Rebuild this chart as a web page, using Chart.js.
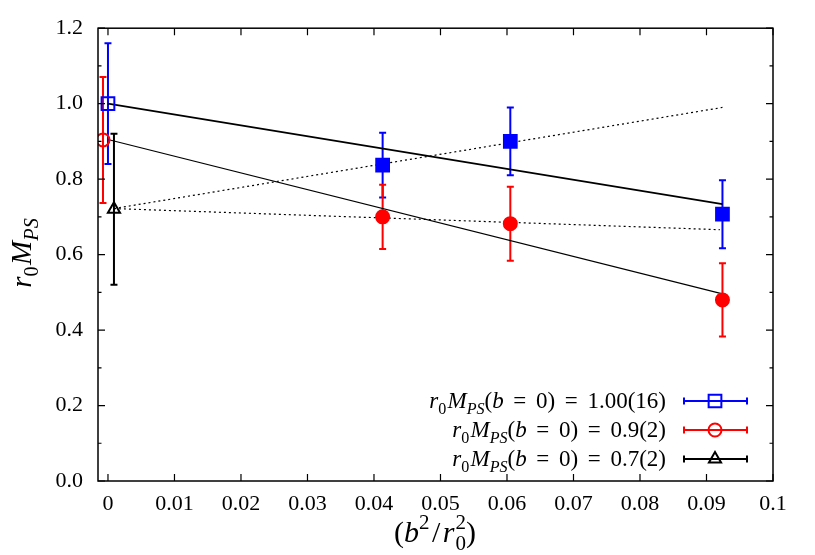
<!DOCTYPE html>
<html>
<head>
<meta charset="utf-8">
<script src="https://cdn.jsdelivr.net/npm/chart.js@4/dist/chart.umd.min.js"></script>
<style>
  html, body { margin: 0; padding: 0; background: #fff; }
  #wrap { width: 815px; height: 555px; }
</style>
</head>
<body>
<div id="wrap"><canvas id="c" width="815" height="555"></canvas></div>
<script>
// ---- data ----
const xTicks = [0, 0.01, 0.02, 0.03, 0.04, 0.05, 0.06, 0.07, 0.08, 0.09, 0.1];
const xTickLabels = ['0', '0.01', '0.02', '0.03', '0.04', '0.05', '0.06', '0.07', '0.08', '0.09', '0.1'];
const yTicks = [0, 0.2, 0.4, 0.6, 0.8, 1.0, 1.2];
const yTickLabels = ['0.0', '0.2', '0.4', '0.6', '0.8', '1.0', '1.2'];
const yMinorTicks = [0.1, 0.3, 0.5, 0.7, 0.9, 1.1];

// lattice points (filled markers)
const latticeX = [0.0413, 0.0605, 0.0924];
const blueY = [0.837, 0.900, 0.707];
const blueErr = [0.086, 0.090, 0.090];
const redY = [0.700, 0.682, 0.480];
const redErr = [0.085, 0.098, 0.097];

// continuum extrapolations (open markers)
const blueContX = [0];
const blueContY = [1.00];
const blueContErr = [0.16];
const redContX = [-0.00075];
const redContY = [0.904];
const redContErr = [0.167];
const blackContX = [0.0009];
const blackContY = [0.72];
const blackContErr = [0.20];

// fit lines
const fitBlueX = [0, 0.0924];
const fitBlueY = [1.00, 0.734];
const fitRedX = [0, 0.0924];
const fitRedY = [0.905, 0.496];
const fitDotUpX = [0.0009, 0.0924];
const fitDotUpY = [0.722, 0.990];
const fitDotFlatX = [0.0009, 0.092];
const fitDotFlatY = [0.722, 0.666];

const legendValues = ['1.00(16)', '0.9(2)', '0.7(2)'];

const BLUE = '#0000ff', RED = '#ff0000', BLACK = '#000000';
const FAM = "'Liberation Serif', 'Times New Roman', serif";

function pts(xs, ys) { return xs.map((x, i) => ({ x: x, y: ys[i] })); }

// draw a run of text pieces (italic / sub / sup) on one baseline
function mathWidth(ctx, segs, size) {
  let w = 0;
  for (const s of segs) {
    if (s.gap) { w += s.gap * size; continue; }
    if (s.stack) {
      ctx.font = (size * 0.7) + 'px ' + FAM;
      w += Math.max(ctx.measureText(s.stack[0]).width, ctx.measureText(s.stack[1]).width) + 1;
      continue;
    }
    const fs = (s.sub || s.sup) ? size * 0.7 : size;
    ctx.font = (s.it ? 'italic ' : '') + fs + 'px ' + FAM;
    w += ctx.measureText(s.t).width;
  }
  return w;
}
function drawMath(ctx, segs, x, y, size, align) {
  const w = mathWidth(ctx, segs, size);
  let cx = align === 'right' ? x - w : align === 'center' ? x - w / 2 : x;
  ctx.textAlign = 'left';
  ctx.textBaseline = 'alphabetic';
  ctx.fillStyle = '#000';
  for (const s of segs) {
    if (s.gap) { cx += s.gap * size; continue; }
    if (s.stack) {
      ctx.font = (size * 0.7) + 'px ' + FAM;
      ctx.fillText(s.stack[0], cx + 1, y - size * 0.42);
      ctx.fillText(s.stack[1], cx + 1, y + size * 0.25);
      cx += Math.max(ctx.measureText(s.stack[0]).width, ctx.measureText(s.stack[1]).width) + 1;
      continue;
    }
    const fs = (s.sub || s.sup) ? size * 0.7 : size;
    ctx.font = (s.it ? 'italic ' : '') + fs + 'px ' + FAM;
    const dy = s.sub ? size * 0.25 : s.sup ? -size * 0.42 : 0;
    ctx.fillText(s.t, cx, y + dy);
    cx += ctx.measureText(s.t).width;
  }
}

const errorSeries = [
  { xs: latticeX, ys: blueY, es: blueErr, color: BLUE },
  { xs: blueContX, ys: blueContY, es: blueContErr, color: BLUE },
  { xs: latticeX, ys: redY, es: redErr, color: RED },
  { xs: redContX, ys: redContY, es: redContErr, color: RED },
  { xs: blackContX, ys: blackContY, es: blackContErr, color: BLACK }
];

const frame = {
  id: 'frame',
  beforeDatasetsDraw(chart) {
    const ctx = chart.ctx, xs = chart.scales.x, ys = chart.scales.y;
    ctx.save();
    ctx.lineWidth = 2;
    for (const s of errorSeries) {
      ctx.strokeStyle = s.color;
      s.xs.forEach((x, i) => {
        const px = xs.getPixelForValue(x);
        const top = ys.getPixelForValue(s.ys[i] + s.es[i]);
        const bot = ys.getPixelForValue(s.ys[i] - s.es[i]);
        ctx.beginPath();
        ctx.moveTo(px, top); ctx.lineTo(px, bot);
        ctx.moveTo(px - 3.5, top); ctx.lineTo(px + 3.5, top);
        ctx.moveTo(px - 3.5, bot); ctx.lineTo(px + 3.5, bot);
        ctx.stroke();
      });
    }
    ctx.restore();
  },
  afterDraw(chart) {
    const ctx = chart.ctx, ca = chart.chartArea;
    const xs = chart.scales.x, ys = chart.scales.y;
    ctx.save();
    ctx.strokeStyle = '#000';
    ctx.lineWidth = 1.5;
    ctx.strokeRect(ca.left, ca.top, ca.right - ca.left, ca.bottom - ca.top);
    ctx.lineWidth = 1.2;
    ctx.beginPath();
    for (const v of xTicks) {
      const px = xs.getPixelForValue(v);
      ctx.moveTo(px, ca.bottom); ctx.lineTo(px, ca.bottom - 7);
      ctx.moveTo(px, ca.top); ctx.lineTo(px, ca.top + 7);
    }
    for (const v of yTicks) {
      const py = ys.getPixelForValue(v);
      ctx.moveTo(ca.left, py); ctx.lineTo(ca.left + 7, py);
      ctx.moveTo(ca.right, py); ctx.lineTo(ca.right - 7, py);
    }
    for (const v of yMinorTicks) {
      const py = ys.getPixelForValue(v);
      ctx.moveTo(ca.left, py); ctx.lineTo(ca.left + 3.5, py);
      ctx.moveTo(ca.right, py); ctx.lineTo(ca.right - 3.5, py);
    }
    ctx.stroke();

    // legend
    const rows = [
      { color: BLUE, style: 'rect', r: 9 },
      { color: RED, style: 'circle', r: 6.5 },
      { color: BLACK, style: 'triangle', r: 7 }
    ];
    rows.forEach((row, i) => {
      const ly = 401 + i * 29;
      drawMath(ctx, [
        { t: 'r', it: 1 }, { t: '0', sub: 1 }, { gap: 0.05 }, { t: 'M', it: 1 }, { t: 'PS', it: 1, sub: 1 },
        { t: '(' }, { t: 'b', it: 1 }, { gap: 0.42 }, { t: '=' }, { gap: 0.42 }, { t: '0)' },
        { gap: 0.42 }, { t: '=' }, { gap: 0.42 }, { t: legendValues[i] }
      ], 666, ly + 7, 23, 'right');
      ctx.strokeStyle = row.color;
      ctx.lineWidth = 2;
      ctx.beginPath();
      ctx.moveTo(684, ly); ctx.lineTo(747, ly);
      ctx.moveTo(684, ly - 3.5); ctx.lineTo(684, ly + 3.5);
      ctx.moveTo(747, ly - 3.5); ctx.lineTo(747, ly + 3.5);
      ctx.stroke();
      ctx.fillStyle = 'rgba(0,0,0,0)';
      Chart.helpers.drawPoint(ctx, { pointStyle: row.style, radius: row.r, rotation: 0, borderWidth: 2 }, 715, ly);
    });

    // axis titles
    drawMath(ctx, [
      { t: '(' }, { t: 'b', it: 1 }, { t: '2', sup: 1 }, { gap: 0.08 }, { t: '/' }, { gap: 0.08 }, { t: 'r', it: 1 },
      { stack: ['2', '0'] }, { t: ')' }
    ], 435, 542, 30, 'center');
    ctx.translate(31, 253);
    ctx.rotate(-Math.PI / 2);
    drawMath(ctx, [
      { t: 'r', it: 1 }, { t: '0', sub: 1 }, { gap: 0.05 }, { t: 'M', it: 1 }, { t: 'PS', it: 1, sub: 1 }
    ], 0, 0, 29, 'center');
    ctx.restore();
  }
};

const markerBase = { showLine: false, borderWidth: 2, pointHoverRadius: 0 };
const lineBase = { showLine: true, pointRadius: 0, pointHoverRadius: 0, borderColor: BLACK, fill: false };

new Chart(document.getElementById('c'), {
  type: 'scatter',
  data: {
    datasets: [
      Object.assign({ data: pts(latticeX, blueY), pointStyle: 'rect', pointRadius: 9,
        backgroundColor: BLUE, borderColor: BLUE }, markerBase),
      Object.assign({ data: pts(latticeX, redY), pointStyle: 'circle', pointRadius: 6.5,
        backgroundColor: RED, borderColor: RED }, markerBase),
      Object.assign({ data: pts(blueContX, blueContY), pointStyle: 'rect', pointRadius: 9,
        backgroundColor: 'rgba(0,0,0,0)', borderColor: BLUE }, markerBase),
      Object.assign({ data: pts(redContX, redContY), pointStyle: 'circle', pointRadius: 6.5,
        backgroundColor: 'rgba(0,0,0,0)', borderColor: RED }, markerBase),
      Object.assign({ data: pts(blackContX, blackContY), pointStyle: 'triangle', pointRadius: 7,
        backgroundColor: 'rgba(0,0,0,0)', borderColor: BLACK }, markerBase),
      Object.assign({ data: pts(fitBlueX, fitBlueY), borderWidth: 1.8 }, lineBase),
      Object.assign({ data: pts(fitRedX, fitRedY), borderWidth: 1.2 }, lineBase),
      Object.assign({ data: pts(fitDotUpX, fitDotUpY), borderWidth: 1.2, borderDash: [2, 3] }, lineBase),
      Object.assign({ data: pts(fitDotFlatX, fitDotFlatY), borderWidth: 1.2, borderDash: [2, 3] }, lineBase)
    ]
  },
  options: {
    responsive: false,
    animation: false,
    layout: { padding: { top: 27, right: 42, left: 0, bottom: 0 } },
    plugins: { legend: { display: false }, tooltip: { enabled: false } },
    scales: {
      x: {
        type: 'linear', min: -0.0015, max: 0.1,
        grid: { display: false, drawTicks: false }, border: { display: false },
        afterBuildTicks: (s) => { s.ticks = xTicks.map(v => ({ value: v })); },
        afterFit: (s) => { s.height = 74; },
        ticks: {
          padding: 10, color: '#000', maxRotation: 0, autoSkip: false,
          font: { family: FAM, size: 22 },
          callback: (v) => xTickLabels[xTicks.indexOf(v)]
        }
      },
      y: {
        type: 'linear', min: 0, max: 1.2,
        grid: { display: false, drawTicks: false }, border: { display: false },
        afterBuildTicks: (s) => { s.ticks = yTicks.map(v => ({ value: v })); },
        afterFit: (s) => { s.width = 98; },
        ticks: {
          padding: 15, color: '#000',
          font: { family: FAM, size: 22 },
          callback: (v) => yTickLabels[yTicks.indexOf(v)]
        }
      }
    }
  },
  plugins: [frame]
});
</script>
</body>
</html>
